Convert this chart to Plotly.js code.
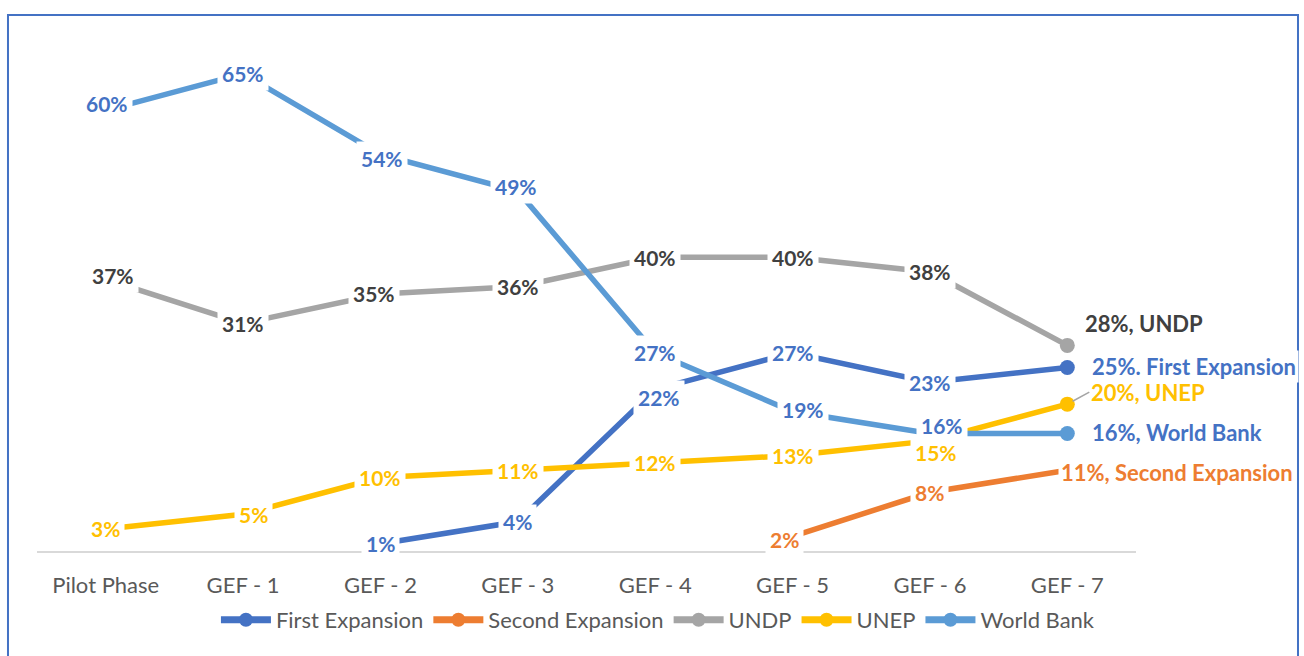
<!DOCTYPE html>
<html>
<head>
<meta charset="utf-8">
<script src="https://cdn.plot.ly/plotly-3.0.1.min.js"></script>
<style>
  html, body { margin: 0; padding: 0; background: #fff; }
  #chart { width: 1304px; height: 656px; }
</style>
</head>
<body>
<div id="chart"></div>
<script>
// ---- data ----
const categories = ["Pilot Phase", "GEF - 1", "GEF - 2", "GEF - 3", "GEF - 4", "GEF - 5", "GEF - 6", "GEF - 7"];
const seriesNames = ["First Expansion", "Second Expansion", "UNDP", "UNEP", "World Bank"];
const firstExpansion  = [null, null, 1, 4, 22, 27, 23, 25];
const secondExpansion = [null, null, null, null, null, 2, 8, 11];
const undp            = [37, 31, 35, 36, 40, 40, 38, 28];
const unep            = [3, 5, 10, 11, 12, 13, 15, 20];
const worldBank       = [60, 65, 54, 49, 27, 19, 16, 16];
const endSeparators   = [". ", ", ", ", ", ", ", ", "];

// ---- styles ----
const seriesValues = [firstExpansion, secondExpansion, undp, unep, worldBank];
const lineColors  = ["#4472C4", "#ED7D31", "#A5A5A5", "#FFC000", "#5B9BD5"];
const labelColors = ["#4472C4", "#ED7D31", "#404040", "#FFC000", "#4472C4"];
// per-series label nudges (pixels) : {index: [xshift, yshift]}
const labelNudges = [
  {4: [4, -8]},
  {5: [-8, -3]},
  {0: [7, 4], 2: [-6, 1]},
  {1: [10, 0], 6: [6, -12]},
  {0: [1, 7], 2: [2, -4], 3: [-2, 5], 6: [12, 8], 5: [10, 2]}
];
// end-of-line label placement
const endPlacement = [
  {xshift: 22, yshift: 1},
  {xshift: -9, yshift: -2},
  {xshift: 15, yshift: 22},
  {arrow: true, ax: 22, ay: -12},
  {xshift: 22, yshift: 1}
];

const font = "Lato, 'Open Sans', sans-serif";
const traces = [];
const annotations = [];
const last = categories.length - 1;

seriesValues.forEach((vals, s) => {
  traces.push({
    type: "scatter", mode: "lines",
    x: categories, y: vals, name: seriesNames[s],
    line: {color: lineColors[s], width: 5.5},
    showlegend: false, legendgroup: seriesNames[s], hoverinfo: "skip"
  });
  traces.push({
    type: "scatter", mode: "markers",
    x: [categories[last]], y: [vals[last]],
    marker: {color: lineColors[s], size: 15},
    showlegend: false, legendgroup: seriesNames[s], hoverinfo: "skip"
  });
  traces.push({
    type: "scatter", mode: "lines+markers",
    x: [null], y: [null], name: seriesNames[s],
    line: {color: lineColors[s], width: 7},
    marker: {color: lineColors[s], size: 14},
    legendgroup: seriesNames[s], hoverinfo: "skip"
  });

  vals.forEach((v, i) => {
    if (v === null) return;
    if (i === last) {
      const f = {family: font, size: 22, color: labelColors[s], weight: "bold"};
      const p = endPlacement[s];
      const txt = "<b>" + v + "%" + endSeparators[s] + seriesNames[s] + "</b>";
      if (p.arrow) {
        annotations.push({
          x: categories[i], y: v, xref: "x", yref: "y", text: txt,
          showarrow: true, ax: p.ax, ay: p.ay, xanchor: "left", yanchor: "middle",
          arrowhead: 0, arrowwidth: 1.5, arrowcolor: "#A5A5A5", standoff: 6,
          font: f, bgcolor: "rgba(255,255,255,0)"
        });
      } else {
        annotations.push({
          x: categories[i], y: v, xref: "x", yref: "y", text: txt,
          showarrow: false, xanchor: "left", yanchor: "middle",
          xshift: p.xshift, yshift: p.yshift,
          font: f, bgcolor: "#ffffff", borderpad: 2
        });
      }
    } else {
      const f = {family: font, size: 21, color: labelColors[s], weight: "bold"};
      const n = labelNudges[s][i] || [0, 0];
      annotations.push({
        x: categories[i], y: v, xref: "x", yref: "y",
        text: "<b>" + v + "%</b>",
        showarrow: false, xanchor: "center", yanchor: "middle",
        xshift: n[0], yshift: n[1],
        font: f, bgcolor: "#ffffff", borderpad: 4
      });
    }
  });
});

const layout = {
  width: 1304, height: 656,
  margin: {l: 37, r: 168, t: 37, b: 105},
  paper_bgcolor: "#ffffff", plot_bgcolor: "#ffffff",
  font: {family: font, color: "#595959"},
  showlegend: true,
  legend: {
    orientation: "h", x: 0.565, xanchor: "center", y: -0.134, yanchor: "middle",
    font: {family: font, size: 22, color: "#595959"},
    traceorder: "normal", itemwidth: 50
  },
  xaxis: {
    type: "category", categoryarray: categories, range: [-0.5, 7.5],
    showgrid: false, zeroline: false, showline: true, linecolor: "#D9D9D9", linewidth: 1.5,
    ticks: "", tickfont: {family: font, size: 22, color: "#595959"},
    ticklabelstandoff: 14, fixedrange: true
  },
  yaxis: {
    range: [0, 70], showgrid: false, zeroline: false, showline: false,
    showticklabels: false, ticks: "", fixedrange: true
  },
  annotations: annotations,
  shapes: [{
    type: "rect", xref: "paper", yref: "paper",
    x0: -0.0264, x1: 1.1474, y0: -0.25, y1: 1.0428,
    line: {color: "#4472C4", width: 2}, fillcolor: "rgba(0,0,0,0)", layer: "below"
  }]
};

Plotly.newPlot("chart", traces, layout, {displayModeBar: false, staticPlot: true});
</script>
</body>
</html>
